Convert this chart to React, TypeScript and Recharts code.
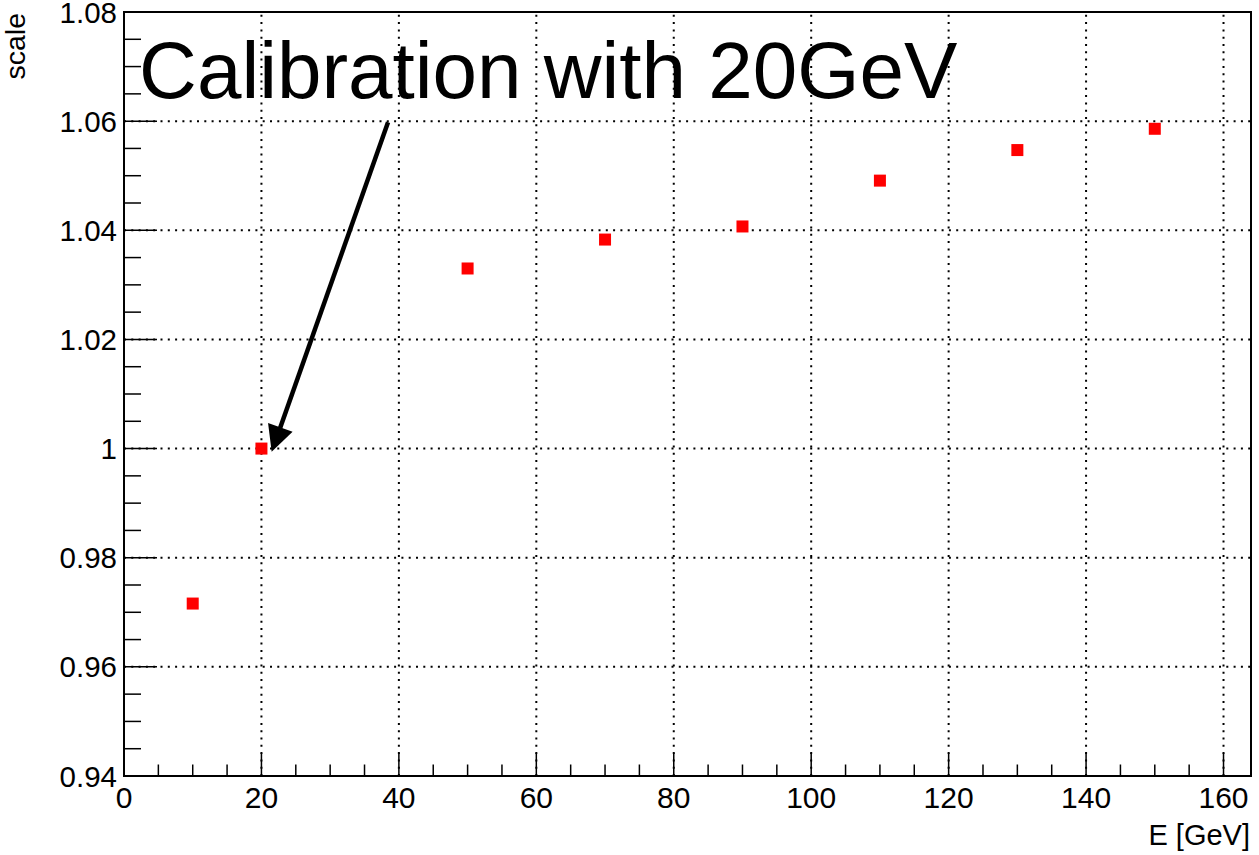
import React from 'react';
import { ScatterChart, Scatter, XAxis, YAxis, ReferenceLine, ReferenceArea, ReferenceDot } from 'recharts';

const energies = [10, 20, 50, 70, 90, 110, 130, 150];
const scales = [0.9716, 1.0, 1.033, 1.0383, 1.0407, 1.0491, 1.0547, 1.0586];

const xTicks = [0, 5, 10, 15, 20, 25, 30, 35, 40, 45, 50, 55, 60, 65, 70, 75, 80, 85, 90, 95, 100, 105, 110, 115, 120, 125, 130, 135, 140, 145, 150, 155, 160];
const xMajor = [0, 20, 40, 60, 80, 100, 120, 140, 160];
const xGrid = [20, 40, 60, 80, 100, 120, 140, 160];
const yTicks = [0.94, 0.945, 0.95, 0.955, 0.96, 0.965, 0.97, 0.975, 0.98, 0.985, 0.99, 0.995, 1.0, 1.005, 1.01, 1.015, 1.02, 1.025, 1.03, 1.035, 1.04, 1.045, 1.05, 1.055, 1.06, 1.065, 1.07, 1.075, 1.08];
const yMajor = [0.94, 0.96, 0.98, 1.0, 1.02, 1.04, 1.06, 1.08];
const yGrid = [0.96, 0.98, 1.0, 1.02, 1.04, 1.06];
const xDomain = [0, 164];
const yDomain = [0.94, 1.08];

const annotationText = 'Calibration with 20GeV';
const annotationPos = { x: 2.2, y: 1.0643 };
const arrowStart = { x: 38.42, y: 1.0598 };
const arrowTip = { x: 21.49, y: 0.9994 };

const xTitle = 'E [GeV]';
const yTitle = 'scale';

const data = energies.map((e, i) => ({ e, s: scales[i] }));

const FONT = '"Liberation Sans", Arial, Helvetica, sans-serif';

const isMajor = (v: number, arr: number[]) => arr.some((m) => Math.abs(m - v) < 1e-9);

const XTick = (props: any) => {
  const { x, y, payload } = props;
  const v = payload.value;
  const major = isMajor(v, xMajor);
  return (
    <g>
      <line x1={x} x2={x} y1={y} y2={y - (major ? 23 : 11.5)} stroke="#000" strokeWidth={1.5} />
      {major && (
        <text x={x} y={y + 32} textAnchor="middle" fontFamily={FONT} fontSize={30} fill="#000">
          {String(v)}
        </text>
      )}
    </g>
  );
};

const YTick = (props: any) => {
  const { x, y, payload } = props;
  const v = payload.value;
  const major = isMajor(v, yMajor);
  return (
    <g>
      <line x1={x} x2={x + (major ? 33 : 17)} y1={y} y2={y} stroke="#000" strokeWidth={1.5} />
      {major && (
        <text x={x - 7} y={y + 10.5} textAnchor="end" fontFamily={FONT} fontSize={29.5} fill="#000">
          {String(v)}
        </text>
      )}
    </g>
  );
};

const SquareShape = (props: any) => {
  const { cx, cy } = props;
  return <rect x={cx - 6} y={cy - 6} width={12} height={12} fill="#ff0000" />;
};

const ArrowShape = (props: any) => {
  const { x1, y1, x2, y2 } = props;
  const dx = x2 - x1;
  const dy = y2 - y1;
  const len = Math.sqrt(dx * dx + dy * dy);
  const ux = dx / len;
  const uy = dy / len;
  const headLen = 26;
  const headHalf = 13;
  const bx = x2 - ux * headLen;
  const by = y2 - uy * headLen;
  const px = -uy;
  const py = ux;
  const pts = `${x2},${y2} ${bx + px * headHalf},${by + py * headHalf} ${bx - px * headHalf},${by - py * headHalf}`;
  return (
    <g>
      <line x1={x1} y1={y1} x2={bx + ux * 2} y2={by + uy * 2} stroke="#000" strokeWidth={4.5} />
      <polygon points={pts} fill="#000" />
    </g>
  );
};

const AnnotationShape = (props: any) => {
  const { cx, cy } = props;
  return (
    <text x={cx} y={cy} fontFamily={FONT} fontSize={80} fill="#000">
      {annotationText}
    </text>
  );
};

const XTitle = (props: any) => {
  const { viewBox } = props;
  return (
    <text x={viewBox.x + viewBox.width - 1} y={viewBox.y + 69} textAnchor="end" fontFamily={FONT} fontSize={29} fill="#000">
      {xTitle}
    </text>
  );
};

const YTitle = (props: any) => {
  const { viewBox } = props;
  return (
    <text transform={`translate(${viewBox.x + 25},${viewBox.y + 1}) rotate(-90)`} textAnchor="end" fontFamily={FONT} fontSize={28.5} fill="#000">
      {yTitle}
    </text>
  );
};

export default function App() {
  return (
    <div style={{ position: 'absolute', left: 0, top: 0, background: '#fff' }}>
      <ScatterChart width={1259} height={855} margin={{ top: 12, right: 8, left: 0, bottom: 0 }}>
        <XAxis
          type="number"
          dataKey="e"
          domain={xDomain}
          ticks={xTicks}
          interval={0}
          allowDataOverflow
          height={79}
          axisLine={false}
          tickLine={false}
          tickSize={0}
          tickMargin={0}
          tick={<XTick />}
          label={<XTitle />}
        />
        <YAxis
          type="number"
          dataKey="s"
          domain={yDomain}
          ticks={yTicks}
          interval={0}
          allowDataOverflow
          width={124}
          axisLine={false}
          tickLine={false}
          tickSize={0}
          tickMargin={0}
          tick={<YTick />}
          label={<YTitle />}
        />
        {xGrid.map((g) => (
          <ReferenceLine key={'xg' + g} x={g} stroke="#000" strokeWidth={2} strokeDasharray="2 5.3" />
        ))}
        {yGrid.map((g) => (
          <ReferenceLine key={'yg' + g} y={g} stroke="#000" strokeWidth={2} strokeDasharray="2 5.3" />
        ))}
        <ReferenceArea x1={xDomain[0]} x2={xDomain[1]} y1={yDomain[0]} y2={yDomain[1]} fill="none" fillOpacity={0} stroke="#000" strokeWidth={2} strokeOpacity={1} />
        <Scatter data={data} isAnimationActive={false} shape={<SquareShape />} />
        <ReferenceLine segment={[arrowStart, arrowTip]} shape={<ArrowShape />} stroke="#000" />
        <ReferenceDot x={annotationPos.x} y={annotationPos.y} r={0} shape={<AnnotationShape />} />
      </ScatterChart>
    </div>
  );
}
